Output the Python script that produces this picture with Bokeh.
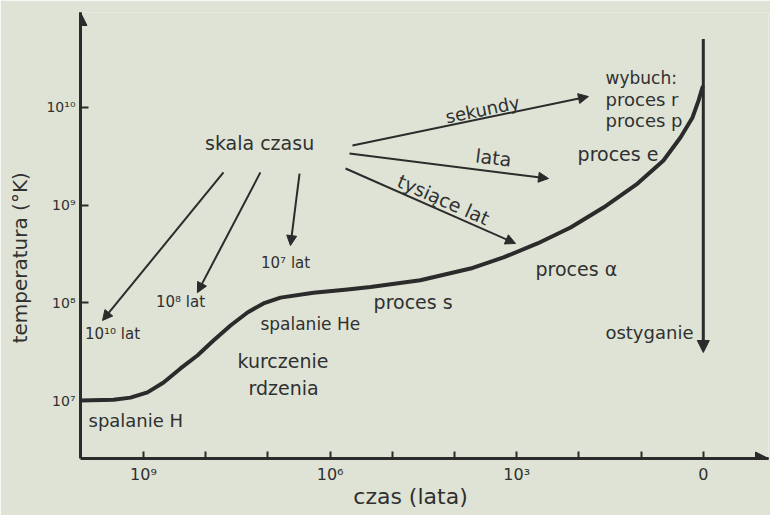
import json
from bokeh.plotting import figure
from bokeh.models import Range1d, FixedTicker, CustomJSTickFormatter, Arrow, NormalHead, ColumnDataSource
from bokeh.core.properties import value
from bokeh.embed import file_html
from bokeh.resources import INLINE

# ---- data ----
# evolution curve: years before the explosion vs core temperature (K)
curve_years = [1.03e10, 3.03e9, 1.62e9, 8.63e8, 4.76e8, 2.54e8, 1.36e8, 7.50e7, 3.99e7,
               2.13e7, 1.18e7, 6.27e6, 1.85e6, 5.25e5, 2.24e5, 3.55e4, 5.53e3, 1.63e3,
               463, 136, 40.3, 11.4, 4.37, 2.33, 1.49, 1.19, 1.03]
curve_temp = [1.0e7, 1.02e7, 1.07e7, 1.21e7, 1.53e7, 2.13e7, 2.89e7, 4.11e7, 5.86e7,
              7.96e7, 9.84e7, 1.13e8, 1.27e8, 1.37e8, 1.45e8, 1.70e8, 2.24e8, 2.91e8,
              4.05e8, 5.90e8, 9.44e8, 1.66e9, 2.86e9, 4.92e9, 7.89e9, 1.18e10, 1.60e10]

# axis ticks (exponent -> label)
x_tick_years = [1e9, 1e8, 1e7, 1e6, 1e5, 1e4, 1e3, 1e2, 1e1, 1e0]
x_tick_labels = {9: "10\u2079", 6: "10\u2076", 3: "10\u00b3", 0: "0"}
y_tick_temps = [1e7, 1e8, 1e9, 1e10]
y_tick_labels = {7: "10\u2077", 8: "10\u2078", 9: "10\u2079", 10: "10\u00b9\u2070"}

# text annotations (years, temperature)
left_text = ["wybuch:", "proces r", "proces p", "proces e", "proces \u03b1", "proces s",
             "spalanie He", "kurczenie", "rdzenia", "spalanie H"]
left_years = [37.3, 37.3, 37.3, 105, 499, 2.0e5, 1.32e7, 3.08e7, 2.05e7, 7.66e9]
left_temp = [1.98e10, 1.21e10, 7.3e9, 3.37e9, 2.24e8, 1.01e8, 6.1e7, 2.56e7, 1.33e7, 6.24e6]

lat_text = ["10\u00b9\u2070 lat", "10\u2078 lat", "10\u2077 lat"]
lat_years = [3.15e9, 2.54e8, 5.2e6]
lat_temp = [4.85e7, 1.01e8, 2.58e8]

rot_text = ["sekundy", "lata", "tysi\u0105ce lat"]
rot_years = [3.55e3, 2.36e3, 1.5e4]
rot_temp = [9.5e9, 3.07e9, 1.14e9]

# "skala czasu" arrows: (start years, start T, end years, end T)
scale_arrows = [
    (5.18e7, 2.16e9, 4.56e9, 6.59e7),
    (1.32e7, 2.16e9, 1.36e8, 1.27e8),
    (3.10e6, 2.10e9, 4.34e6, 3.85e8),
    (4.37e5, 4.07e9, 70.2, 1.29e10),
    (4.88e5, 3.37e9, 308, 1.87e9),
    (5.65e5, 2.37e9, 1045, 4.05e8),
]

# ---- styling ----
BG = "#dee3d6"
INK = "#2b2b2b"
TXT = "#303030"
FONT = "DejaVu Sans"
left_font_px = ["17px", "18px", "18px", "19px", "19px", "19px", "17px", "19px", "19px", "18px"]
rot_angle = [0.204, -0.122, -0.415]
rot_font_px = ["18px", "19px", "19px"]
NBSP = "\u00a0"

X_START, X_END = 1.03e10, 0.0895
Y_START, Y_END = 2.55e6, 9.35e10

p = figure(width=770, height=515, output_backend="svg", toolbar_location=None,
           x_axis_type="log", y_axis_type="log",
           x_range=Range1d(X_START, X_END), y_range=Range1d(Y_START, Y_END),
           min_border_left=80, min_border_right=2, min_border_top=12, min_border_bottom=57,
           background_fill_color=BG, border_fill_color=BG, outline_line_color=None)
p.grid.visible = False

fmt = "const e=Math.round(Math.log10(tick)); const m=%s; return (e in m)? m[e] : '';"
p.xaxis.ticker = FixedTicker(ticks=x_tick_years, minor_ticks=[])
p.xaxis.formatter = CustomJSTickFormatter(code=fmt % json.dumps({str(k): v for k, v in x_tick_labels.items()}))
p.yaxis.ticker = FixedTicker(ticks=y_tick_temps, minor_ticks=[])
p.yaxis.formatter = CustomJSTickFormatter(code=fmt % json.dumps({str(k): v for k, v in y_tick_labels.items()}))

for ax in (p.xaxis[0], p.yaxis[0]):
    ax.axis_line_color = INK
    ax.axis_line_width = 3
    ax.major_tick_line_color = INK
    ax.major_tick_line_width = 2
    ax.major_tick_out = 0
    ax.minor_tick_line_color = None
    ax.major_label_text_color = TXT
    ax.major_label_text_font = FONT
    ax.axis_label_text_color = TXT
    ax.axis_label_text_font = FONT
    ax.axis_label_text_font_style = "normal"

p.xaxis.major_tick_in = 7
p.xaxis.major_label_text_font_size = "16px"
p.xaxis.major_label_standoff = 6
p.xaxis.axis_label = "czas (lata)" + NBSP * 4
p.xaxis.axis_label_text_font_size = "22px"
p.xaxis.axis_label_standoff = -3

p.yaxis.major_tick_in = 8
p.yaxis.major_label_text_font_size = "14px"
p.yaxis.major_label_standoff = 5
p.yaxis.axis_label = "temperatura (\u00b0K)" + NBSP * 7
p.yaxis.axis_label_text_font_size = "20px"
p.yaxis.axis_label_standoff = 11

# axis arrowheads
p.add_layout(Arrow(x_start=X_START, y_start=3e10, x_end=X_START, y_end=Y_END,
                   line_color=INK, line_width=3,
                   end=NormalHead(size=13, fill_color=INK, line_color=INK)))
p.add_layout(Arrow(x_start=2.0, y_start=Y_START, x_end=X_END, y_end=Y_START,
                   line_color=INK, line_width=3,
                   end=NormalHead(size=13, fill_color=INK, line_color=INK)))

# main curve
p.line(curve_years, curve_temp, line_color=INK, line_width=4, line_join="round", line_cap="round")

# explosion / cooling vertical arrow
p.add_layout(Arrow(x_start=1.0, y_start=5.0e10, x_end=1.0, y_end=3.1e7,
                   line_color=INK, line_width=3,
                   end=NormalHead(size=12, fill_color=INK, line_color=INK)))

# "skala czasu" arrows
for xs, ys, xe, ye in scale_arrows:
    p.add_layout(Arrow(x_start=xs, y_start=ys, x_end=xe, y_end=ye,
                       line_color=INK, line_width=2,
                       end=NormalHead(size=10, fill_color=INK, line_color=INK)))

common = dict(text_color=TXT, text_font=value(FONT), text_baseline="middle")
left_src = ColumnDataSource(dict(x=left_years, y=left_temp, text=left_text, size=left_font_px))
p.text(x="x", y="y", text="text", source=left_src, text_align="left", text_font_size="size", **common)
p.text(lat_years, lat_temp, text=lat_text, text_align="center", text_font_size="15px", **common)
p.text([1.36e7], [4.27e9], text=["skala czasu"], text_align="center", text_font_size="19px", **common)
rot_src = ColumnDataSource(dict(x=rot_years, y=rot_temp, text=rot_text, angle=rot_angle, size=rot_font_px))
p.text(x="x", y="y", text="text", angle="angle", source=rot_src, text_align="center",
       text_font_size="size", **common)
p.text([1.44], [4.97e7], text=["ostyganie"], text_align="right", text_font_size="18px", **common)

open("out.html", "w").write(file_html(p, INLINE))
